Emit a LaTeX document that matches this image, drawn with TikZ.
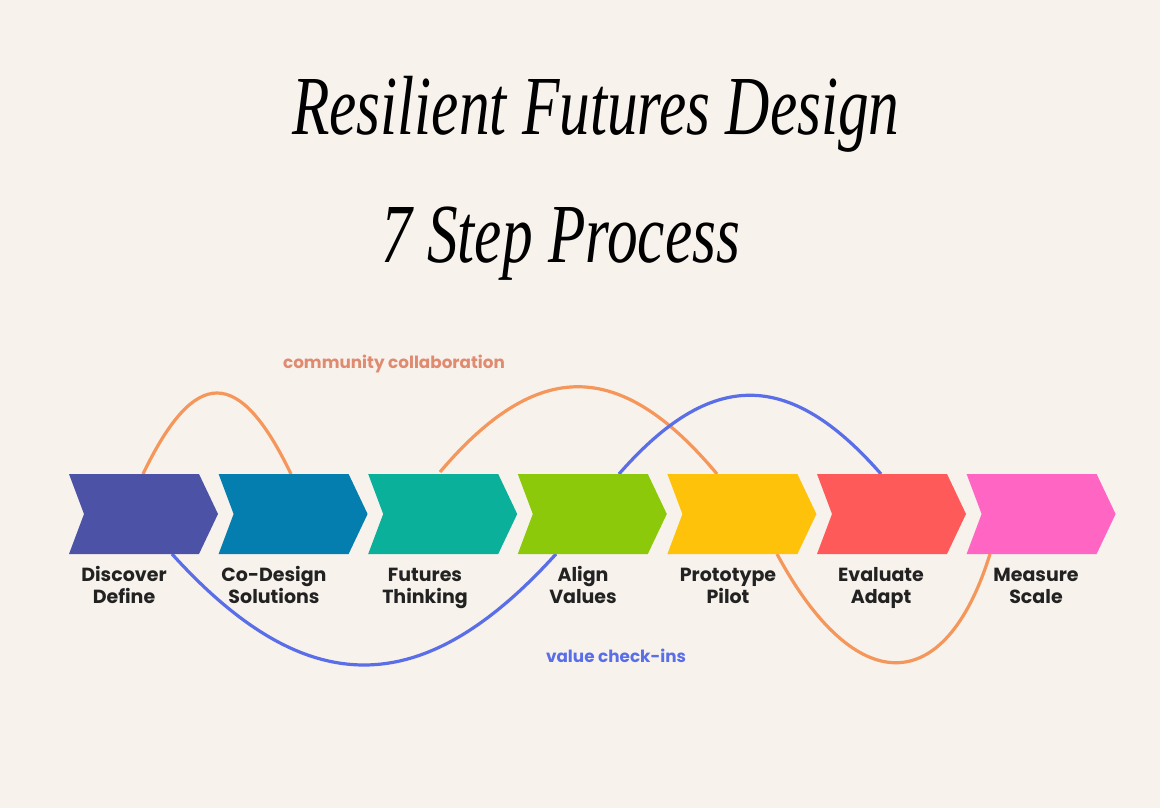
\documentclass[tikz,border=0pt]{standalone}
\usepackage{fontspec}
\setmainfont{Poppins}
\newfontfamily\titlefont[FakeStretch=0.73]{Liberation Serif}
\newfontfamily\labfont{Poppins}
\definecolor{bg}{HTML}{F8F2ED}
\definecolor{cA}{HTML}{4C52A6}
\definecolor{cB}{HTML}{037EAE}
\definecolor{cC}{HTML}{0BB09A}
\definecolor{cD}{HTML}{8CC90A}
\definecolor{cE}{HTML}{FFC20A}
\definecolor{cF}{HTML}{FF5A5A}
\definecolor{cG}{HTML}{FF66C4}
\definecolor{orng}{HTML}{F5965A}
\definecolor{blu}{HTML}{5A6EE8}
\definecolor{salmon}{HTML}{E08A70}
\definecolor{ink}{HTML}{222222}
\begin{document}
\begin{tikzpicture}[x=1pt,y=-1pt,
  arc/.style={line width=3.2pt},
  lab/.style={font=\labfont\bfseries\fontsize{19}{22}\selectfont, text=ink, align=center, inner sep=0pt, anchor=base},
  note/.style={font=\labfont\bfseries\fontsize{16.8}{18}\selectfont, inner sep=0pt, anchor=base},
  ttl/.style={font=\titlefont\itshape\fontsize{84}{90}\selectfont, inner sep=0pt, anchor=base west}]
\fill[bg] (0,0) rectangle (1160,808);
\useasboundingbox (0,0) rectangle (1160,808);
% title
\node[ttl] (t1) at (292,135) {Resilient Futures Design};
\node[ttl] (t2) at (381,262) {7 Step Process};
% curve anchor points
\coordinate (o1s) at (143,474); \coordinate (o1e) at (291,474);
\coordinate (o2s) at (440,472); \coordinate (o2e) at (717,474);
\coordinate (b1s) at (619,474); \coordinate (b1e) at (881,474);
\coordinate (b2s) at (172,554); \coordinate (b2e) at (556,554);
\coordinate (o3s) at (777,554); \coordinate (o3e) at (990,554);
% curves (behind chevrons)
\draw[arc, orng] (o1s) .. controls (195,366) and (239,366) .. (o1e);
\draw[arc, orng] (o2s) .. controls (537,358) and (620,358) .. (o2e);
\draw[arc, blu] (b1s) .. controls (711,369) and (789,369) .. (b1e);
\draw[arc, blu] (b2s) .. controls (306,702) and (422,702) .. (b2e);
\draw[arc, orng] (o3s) .. controls (855,699) and (945,699) .. (o3e);
% chevrons
\foreach \i/\c in {0/cA,1/cB,2/cC,3/cD,4/cE,5/cF,6/cG}{
  \pgfmathsetmacro{\xo}{69+149.6*\i}
  \fill[\c] (\xo,474) -- ++(130,0) -- ++(19,40) -- ++(-19,40) -- ++(-130,0) -- ++(15,-40) -- cycle;
  \coordinate (s\i) at ({\xo+72},514);
}
% labels
\node[lab] (l1) at (124,603) {Discover\\Define};
\node[lab] (l2) at (274,603) {Co-Design\\Solutions};
\node[lab] (l3) at (425,603) {Futures\\Thinking};
\node[lab] (l4) at (583,603) {Align\\Values};
\node[lab] (l5) at (728,603) {Prototype\\Pilot};
\node[lab] (l6) at (881,603) {Evaluate\\Adapt};
\node[lab] (l7) at (1036,603) {Measure\\Scale};
% curve labels
\node[note, text=salmon] (cc) at (394,368) {community collaboration};
\node[note, text=blu] (vc) at (616,662) {value check-ins};
\end{tikzpicture}
\end{document}
